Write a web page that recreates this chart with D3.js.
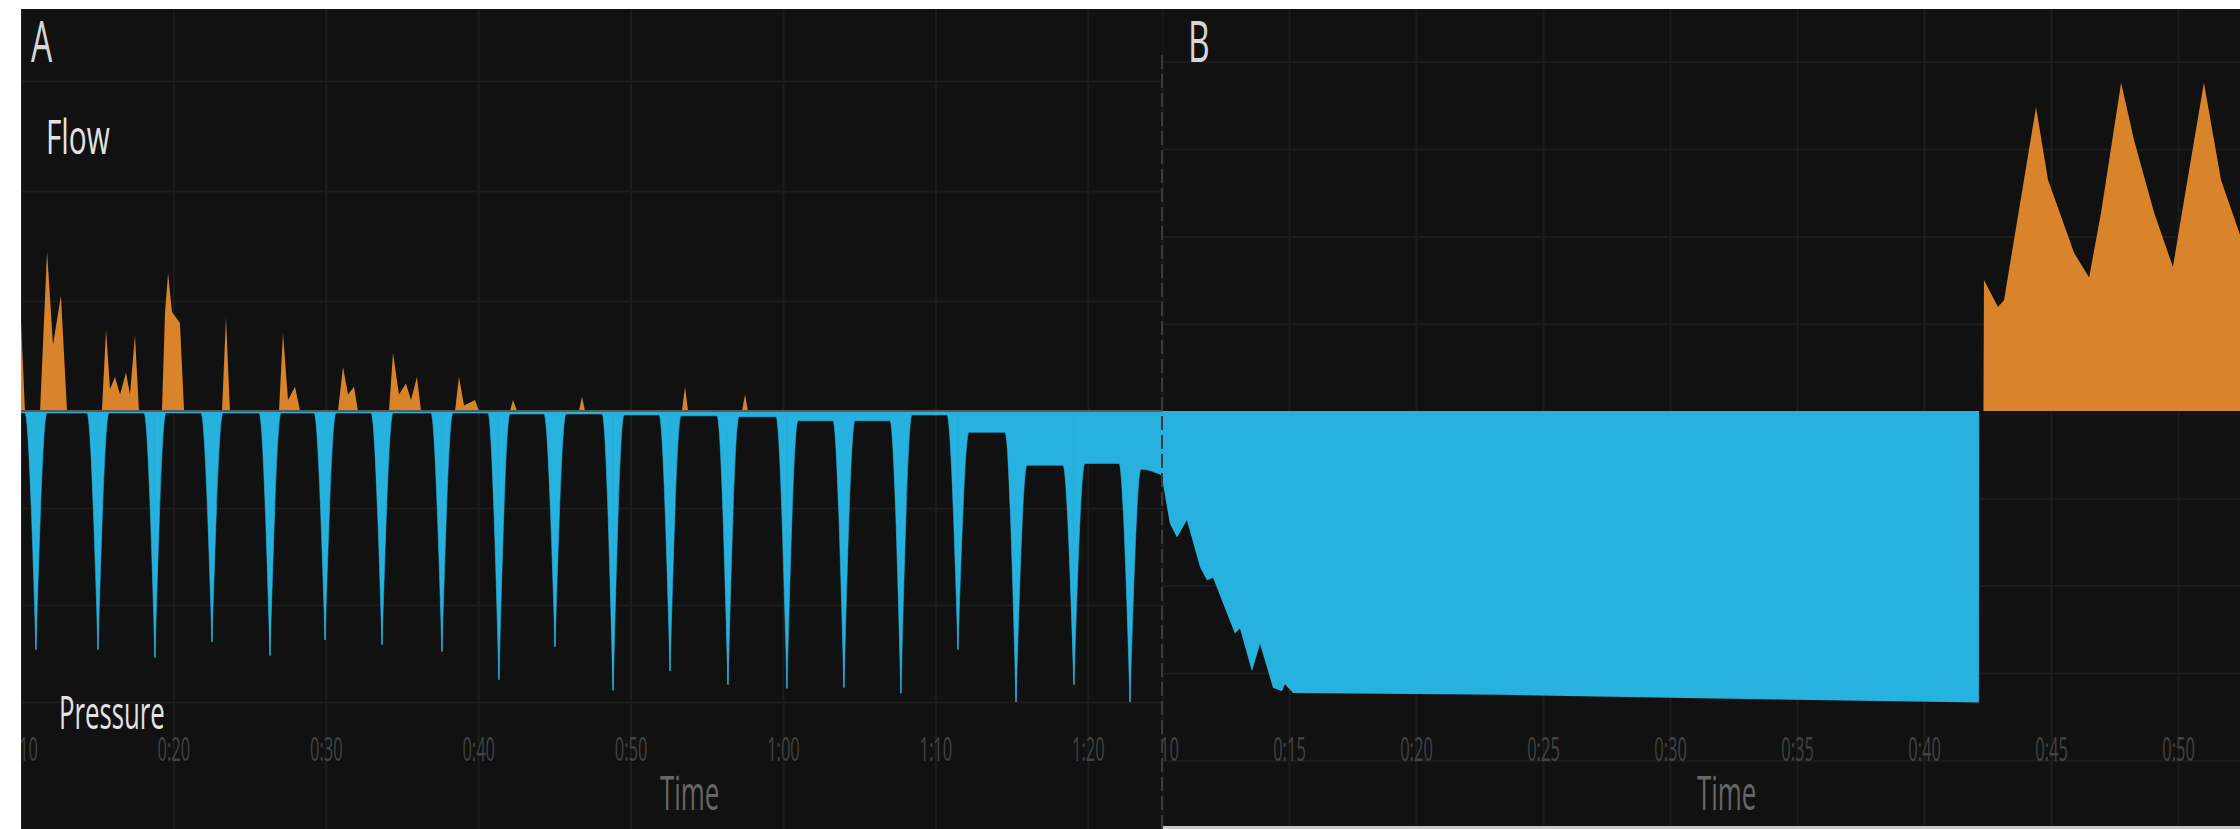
<!DOCTYPE html>
<html>
<head>
<meta charset="utf-8">
<script src="https://cdn.jsdelivr.net/npm/d3@7"></script>
<style>
  body { margin: 0; background: #fff; }
  svg { display: block; }
  text { font-family: "Open Sans", "Noto Sans", sans-serif; }
</style>
</head>
<body>
<div id="chart"></div>
<script>
// time ticks (seconds) and their labels
const ticksA = [10, 20, 30, 40, 50, 60, 70, 80];
const tickLabelsA = ["0:10", "0:20", "0:30", "0:40", "0:50", "1:00", "1:10", "1:20"];
const ticksB = [10, 15, 20, 25, 30, 35, 40, 45, 50];
const tickLabelsB = ["0:10", "0:15", "0:20", "0:25", "0:30", "0:35", "0:40", "0:45", "0:50"];

// panel A flow spikes [time, flow]
const flowA = [
  [10, 8.2], [10.26, 0],
  [11.25, 0], [11.71, 14.5], [12.10, 6], [12.62, 10.5], [13.02, 0],
  [15.31, 0], [15.58, 7.4], [15.84, 2], [16.17, 3.1], [16.50, 1.5], [16.89, 3.5], [17.15, 1.5], [17.48, 6.9], [17.74, 0],
  [19.25, 0], [19.45, 9], [19.65, 12.5], [19.91, 9], [20.43, 8], [20.70, 0],
  [23.19, 0], [23.45, 8.5], [23.71, 0],
  [26.93, 0], [27.19, 7.1], [27.52, 1], [27.98, 2.2], [28.31, 0],
  [30.80, 0], [31.13, 4], [31.46, 1.5], [31.85, 2.2], [32.11, 0],
  [34.15, 0], [34.41, 5.3], [34.80, 1.5], [35.26, 2.5], [35.59, 1], [35.98, 3.1], [36.25, 0],
  [38.48, 0], [38.74, 3.1], [39.07, 0.5], [39.79, 1], [40.05, 0],
  [42.09, 0], [42.28, 1], [42.55, 0],
  [46.61, 0], [46.81, 1.3], [47.01, 0],
  [53.37, 0], [53.57, 2.2], [53.77, 0],
  [57.31, 0], [57.51, 1.5], [57.70, 0],
  [84.87, 0]
];

// panel A pressure: trough times, trough values, level between breaths
const dipTimesA = [10.98, 15.05, 18.79, 22.53, 26.34, 29.95, 33.69, 37.62, 41.36, 45.04,
                   48.85, 52.59, 56.39, 60.26, 64.00, 67.74, 71.48, 75.29, 79.09, 82.77];
const dipValuesA = [-24.6, -24.6, -25.4, -23.8, -25.2, -23.6, -24.1, -24.8, -27.7, -24.3,
                    -28.8, -26.8, -28.2, -28.6, -28.5, -29.1, -24.6, -30.0, -28.2, -30.0];
const plateauA = [-0.2, -0.2, -0.2, -0.2, -0.2, -0.2, -0.2, -0.2, -0.2, -0.3, -0.3,
                  -0.4, -0.5, -0.6, -1.0, -1.0, -0.4, -2.2, -5.6, -5.4, -6.0];

// panel B flow [time, flow]
const flowB = [
  [42.34, 0], [42.36, 15.0], [42.91, 11.9], [43.15, 12.7], [44.41, 34.8], [44.88, 26.5],
  [45.91, 18.1], [46.50, 15.3], [46.97, 22.7], [47.76, 37.6], [48.27, 31.0], [49.06, 22.7],
  [49.80, 16.5], [50.24, 24.2], [51.02, 37.6], [51.69, 26.5], [52.44, 20.2], [52.44, 0]
];

// panel B pressure [time, pressure]
const pressureB = [
  [10.0, -7.7], [10.31, -12.9], [10.59, -14.5], [10.98, -12.5], [11.50, -17.9], [11.77, -19.4],
  [12.01, -19.1], [12.56, -23.2], [12.87, -25.5], [13.07, -24.9], [13.54, -29.8], [13.86, -26.7],
  [14.37, -31.7], [14.72, -32.1], [14.84, -31.3], [15.16, -32.3], [23.31, -32.5], [31.18, -32.9],
  [42.16, -33.4], [42.17, 0]
];

const width = 2240, height = 829;
const topY = 9, baseY = 411;
const blue = "#27b1de", orange = "#d9842a", grid = "#1d1d1d";
const shoulder = 0.72;

const svg = d3.select("#chart").append("svg")
  .attr("width", width).attr("height", height);

const defs = svg.append("defs");

const panels = [
  {id: "A", x0: 21, x1: 1162, bottom: 829, domain: [10, 84.87], flowStep: 110, presStep: 97,
   ticks: ticksA, labels: tickLabelsA, flowGrid: [10, 20, 30], presGrid: [-10, -20, -30]},
  {id: "B", x0: 1162, x1: 2240, bottom: 826, domain: [10, 52.44], flowStep: 87.3, presStep: 87.3,
   ticks: ticksB, labels: tickLabelsB, flowGrid: [10, 20, 30, 40], presGrid: [-10, -20, -30, -40]}
];

svg.append("rect").attr("x", 1162).attr("y", 826).attr("width", 1078).attr("height", 3).attr("fill", "#c8c8c8");

panels.forEach(p => {
  p.x = d3.scaleLinear().domain(p.domain).range([p.x0, p.x1]);
  p.flowY = d3.scaleLinear().domain([0, 10]).range([baseY, baseY - p.flowStep]);
  p.presY = d3.scaleLinear().domain([0, -10]).range([baseY, baseY + p.presStep]);

  defs.append("clipPath").attr("id", "clip" + p.id)
    .append("rect").attr("x", p.x0).attr("y", topY)
    .attr("width", p.x1 - p.x0).attr("height", p.bottom - topY);

  p.g = svg.append("g").attr("clip-path", `url(#clip${p.id})`);
  p.g.append("rect").attr("x", p.x0).attr("y", topY)
    .attr("width", p.x1 - p.x0).attr("height", p.bottom - topY).attr("fill", "#111");

  // vertical grid
  p.g.append("g")
    .attr("transform", `translate(0,${p.bottom})`)
    .call(d3.axisBottom(p.x).tickValues(p.ticks).tickSize(-(p.bottom - topY)).tickFormat(""))
    .call(g => g.select(".domain").remove())
    .call(g => g.selectAll("line").attr("stroke", grid).attr("stroke-width", 2));

  // horizontal grid, flow half and pressure half
  [[p.flowY, p.flowGrid], [p.presY, p.presGrid]].forEach(([y, vals]) => {
    p.g.append("g")
      .attr("transform", `translate(${p.x0},0)`)
      .call(d3.axisLeft(y).tickValues(vals).tickSize(-(p.x1 - p.x0)).tickFormat(""))
      .call(g => g.select(".domain").remove())
      .call(g => g.selectAll("line").attr("stroke", grid).attr("stroke-width", 2));
  });
});

const A = panels[0], B = panels[1];

// panel A pressure, one piece per breath so each trough stays sharp
const areaA = d3.area().x(d => A.x(d[0])).y0(baseY).y1(d => A.presY(d[1])).curve(d3.curveMonotoneX);
const segmentsA = [];
segmentsA.push([[10, plateauA[0]], [dipTimesA[0] - shoulder, plateauA[0]], [dipTimesA[0], dipValuesA[0]]]);
for (let i = 0; i < dipTimesA.length - 1; i++) {
  segmentsA.push([
    [dipTimesA[i], dipValuesA[i]],
    [dipTimesA[i] + shoulder, plateauA[i + 1]],
    [dipTimesA[i + 1] - shoulder, plateauA[i + 1]],
    [dipTimesA[i + 1], dipValuesA[i + 1]]
  ]);
}
const last = dipTimesA.length - 1;
segmentsA.push([[dipTimesA[last], dipValuesA[last]], [dipTimesA[last] + shoulder, plateauA[last + 1]], [84.87, -6.6]]);

A.g.selectAll(".dip").data(segmentsA).enter().append("path")
  .attr("class", "dip")
  .attr("d", areaA)
  .attr("fill", blue).attr("stroke", blue).attr("stroke-width", 0.6);

A.g.append("path").datum(flowA)
  .attr("d", d3.area().x(d => A.x(d[0])).y0(baseY).y1(d => A.flowY(d[1])))
  .attr("fill", orange);

A.g.append("line")
  .attr("x1", A.x0).attr("x2", A.x1).attr("y1", baseY).attr("y2", baseY)
  .attr("stroke", "#5e5850").attr("stroke-width", 2);

// panel B
B.g.append("path").datum(pressureB)
  .attr("d", d3.area().x(d => B.x(d[0])).y0(baseY).y1(d => B.presY(d[1])))
  .attr("fill", blue);

B.g.append("path").datum(flowB)
  .attr("d", d3.area().x(d => B.x(d[0])).y0(baseY).y1(d => B.flowY(d[1])))
  .attr("fill", orange);

// tick labels, squeezed like the source
panels.forEach(p => {
  p.g.append("g")
    .attr("transform", "translate(0,738)")
    .call(d3.axisBottom(p.x).tickValues(p.ticks).tickSize(0).tickFormat((d, i) => p.labels[i]))
    .call(g => g.select(".domain").remove())
    .call(g => g.selectAll("text")
      .attr("y", 0).attr("dy", "0.71em")
      .attr("font-size", 33).attr("fill", "#424242")
      .attr("font-family", "Open Sans")
      .attr("transform", "scale(0.5,1)"));
});

// separator between the panels
svg.append("line")
  .attr("x1", 1162).attr("x2", 1162).attr("y1", 55).attr("y2", 829)
  .attr("stroke", "#3a3a3a").attr("stroke-width", 2).attr("stroke-dasharray", "14 5");

function label(txt, x, y, size, sx, color) {
  svg.append("text")
    .attr("transform", `translate(${x},${y}) scale(${sx},1)`)
    .attr("font-size", size).attr("fill", color)
    .text(txt);
}

label("A", 31, 62, 56, 0.6, "#d6d6d6");
label("B", 1188, 62, 56, 0.6, "#d6d6d6");
label("Flow", 46, 154, 48, 0.62, "#e2e2e2");
label("Pressure", 59, 729, 46, 0.56, "#e2e2e2");
label("Time", 660, 810, 48, 0.54, "#666");
label("Time", 1697, 810, 48, 0.54, "#666");
</script>
</body>
</html>
